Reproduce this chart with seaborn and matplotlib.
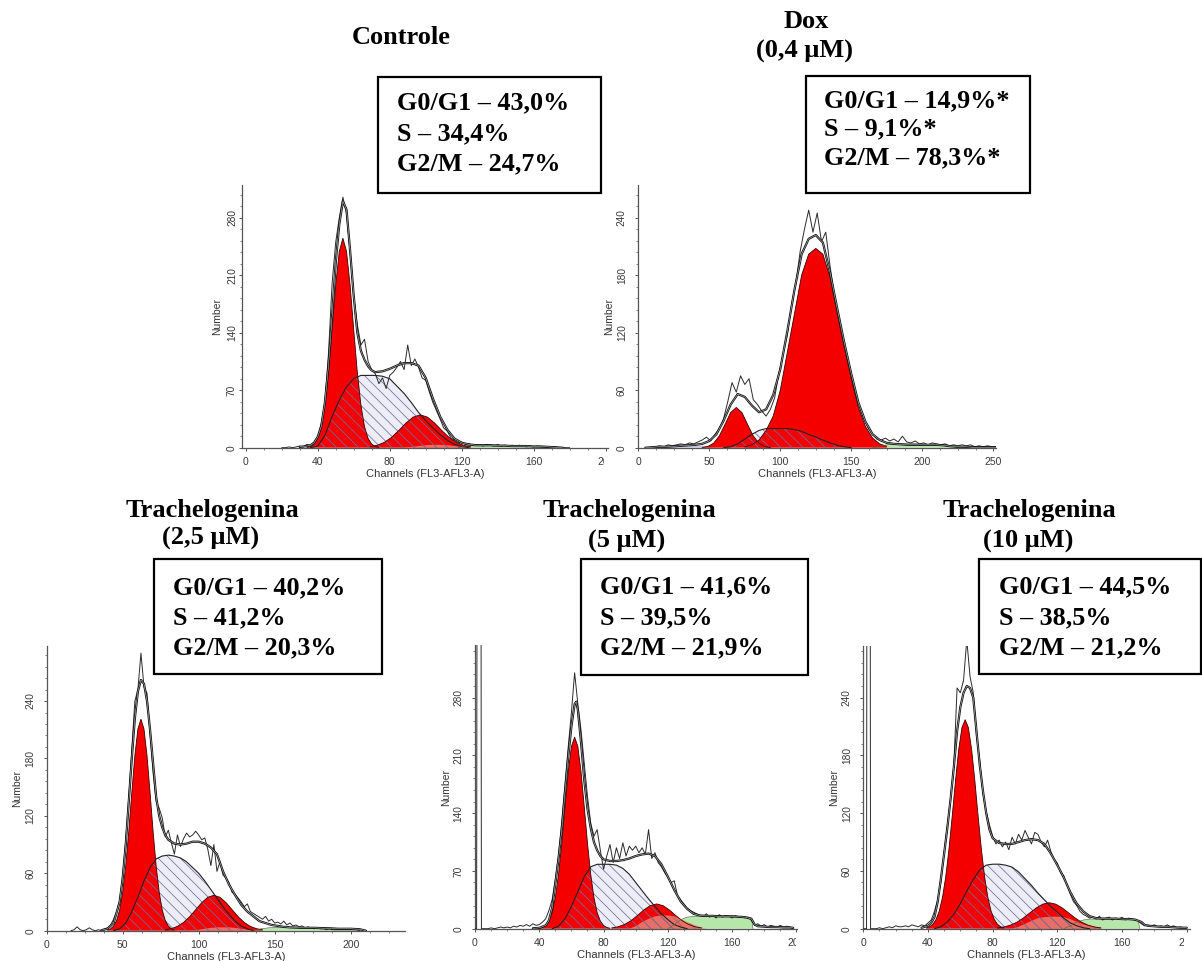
import matplotlib
matplotlib.use("Agg")
import matplotlib.pyplot as plt
import seaborn as sns
from matplotlib.patches import Rectangle
from matplotlib.ticker import AutoMinorLocator
from matplotlib.transforms import Bbox

# ----------------------------------------------------------------- DATA
# Controle
ctrl_raw_x = list(range(20, 182, 2))
ctrl_raw_y = [0, 0, 1, 0, 1, 2, 1, 4, 3, 7,
              14, 30, 55, 115, 200, 250, 280, 305, 285, 238,
              185, 150, 125, 132, 105, 95, 90, 78, 85, 72,
              88, 92, 98, 105, 95, 125, 100, 108, 98, 85,
              82, 68, 55, 45, 35, 24, 20, 12, 9, 6,
              7, 4, 5, 3, 4, 3, 2, 4, 3, 2,
              4, 2, 3, 2, 3, 2, 3, 2, 1, 2,
              1, 2, 1, 1, 1, 0, 1, 0, 0, 0, 0]
ctrl_fit_x = [30, 32, 34, 36, 38, 40, 42, 44, 46, 48, 50, 52, 54, 56, 58, 60, 62, 64, 66, 68, 70,
              72, 76, 80, 84, 88, 92, 96, 100, 104, 108, 112, 116, 120, 124, 128, 132, 136, 140,
              144, 148, 152, 156, 160, 164, 168, 172, 176]
ctrl_fit_y = [1, 1.5, 2, 3, 6, 13, 26, 55, 100, 160, 225, 272, 300, 290, 240, 185, 140, 118, 107, 99, 94,
              92, 93, 96, 100, 103, 103, 100, 85, 60, 38, 22, 11, 6, 4, 3, 3, 3, 2.5,
              2.5, 2, 2, 2, 1.5, 1.5, 1, 0.5, 0]
ctrl_g1_x = list(range(34, 76, 2))
ctrl_g1_y = [0.4, 1.4, 4.3, 11.2, 25.6, 52, 92, 144, 198, 239, 255, 239, 198, 144, 92, 52, 25.6, 11.2, 4.3, 1.4, 0.4]
ctrl_s_x = list(range(36, 128, 4))
ctrl_s_y = [0, 2, 15, 38, 58, 74, 84, 88, 88, 88, 87, 84, 75, 66, 55, 43, 33, 24, 16, 9, 4, 1.5, 0]
ctrl_g2_x = list(range(69, 129, 4))
ctrl_g2_y = [1.1, 2.9, 6.5, 12.5, 20.8, 29.9, 37.2, 40, 37.2, 29.9, 20.8, 12.5, 6.5, 2.9, 1.1]
ctrl_agg_x = list(range(88, 132, 4))
ctrl_agg_y = [0, 1, 2, 3, 3.5, 3.5, 3, 2, 1, 0.5, 0]
ctrl_green_x = list(range(118, 182, 4))
ctrl_green_y = [0, 2, 3, 3.5, 3.5, 3, 3, 2.5, 2, 2, 1.5, 1, 0.8, 0.5, 0.3, 0]

# Dox (0,4 uM)
dox_raw_x = list(range(9, 256, 3))
dox_raw_y = [0, 1, 2, 1, 3, 2, 3, 4, 3, 5,
             4, 6, 8, 11, 7, 14, 20, 30, 48, 68,
             58, 75, 66, 72, 50, 45, 38, 33, 40, 52,
             78, 98, 118, 150, 172, 205, 228, 248, 225, 245,
             215, 225, 190, 160, 138, 115, 95, 75, 55, 42,
             30, 20, 14, 9, 8, 10, 7, 9, 6, 12,
             6, 5, 7, 4, 5, 3, 5, 4, 3, 4,
             2, 3, 2, 3, 2, 3, 1, 2, 1, 2,
             1, 1, 0]
dox_fit_x = list(range(5, 256, 5))
dox_fit_y = [0, 0.5, 1, 1, 1.5, 2, 2.5, 3, 4, 7,
             14, 28, 45, 56, 53, 44, 37, 40, 55, 82,
             122, 165, 202, 218, 222, 214, 183, 146, 110, 77,
             47, 27, 14, 8, 5, 4, 3.5, 3, 3, 3,
             3, 3, 2.5, 1.5, 1, 1, 0.5, 0.5, 0.5, 0.5, 0]
dox_g1_x = list(range(45, 94, 4))
dox_g1_y = [0.3, 1.3, 4.6, 12.1, 24.1, 36.6, 42, 36.6, 24.1, 12.1, 4.6, 1.3, 0.3]
dox_s_x = list(range(60, 151, 5))
dox_s_y = [0, 1, 4, 9, 14, 18, 20, 20, 20, 20, 19, 17, 14, 11, 8, 5, 2.5, 1, 0]
dox_g2_x = list(range(75, 176, 5))
dox_g2_y = [1, 3, 8, 18, 33, 60, 100, 140, 180, 202, 208, 202, 178, 140, 105, 72, 42, 22, 10, 4, 1.5]
dox_green_x = list(range(165, 226, 5))
dox_green_y = [0, 1.5, 3, 3.5, 4, 4, 4, 3.5, 3.5, 3.5, 3, 2, 0]
dox_debris_x = list(range(20, 56, 5))
dox_debris_y = [0, 1, 1.5, 2, 2, 2, 1.5, 0]

# Trachelogenina 2,5 uM
t25_raw_x = list(range(16, 208, 2))
t25_raw_y = [0, 1, 4, 1, 0, 1, 3, 1, 0, 1,
             0, 2, 3, 6, 12, 20, 32, 58, 95, 140,
             190, 240, 252, 290, 255, 248, 205, 165, 135, 128,
             118, 98, 105, 92, 80, 100, 88, 96, 102, 98,
             100, 104, 100, 95, 97, 85, 68, 90, 62, 72,
             58, 55, 50, 40, 38, 34, 30, 25, 28, 20,
             18, 16, 14, 12, 15, 10, 12, 8, 9, 7,
             10, 6, 8, 5, 6, 4, 5, 3, 4, 3,
             2, 3, 2, 2, 1, 2, 1, 1, 1, 1,
             1, 1, 1, 1, 1, 0]
t25_fit_x = [36, 40, 44, 48, 50, 52, 54, 56, 58, 60, 62, 64, 66, 68, 70, 72, 74, 76, 78,
             80, 84, 88, 92, 96, 100, 104, 108, 112, 116, 120, 124, 128, 132, 136, 140, 144, 148,
             152, 156, 160, 168, 176, 184, 192, 200, 206, 210]
t25_fit_y = [0.5, 2, 8, 30, 55, 90, 135, 180, 222, 250, 262, 258, 240, 210, 175, 140, 120, 108, 100,
             95, 91, 90, 91, 93, 93, 91, 87, 80, 62, 48, 37, 27, 20, 15, 10, 8, 6,
             5, 4, 3.5, 3, 3, 2.5, 2, 2, 1.5, 0]
t25_g1_x = list(range(40, 86, 2))
t25_g1_y = [0.7, 1.9, 4.8, 10.7, 21.7, 40.2, 67.7, 103.7, 144.3, 182.8, 210.8, 221,
            210.8, 182.8, 144.3, 103.7, 67.7, 40.2, 21.7, 10.7, 4.8, 1.9, 0.7]
t25_s_x = list(range(44, 140, 4))
t25_s_y = [0, 2, 8, 20, 35, 52, 66, 75, 78, 79, 78, 76, 72, 66, 60, 52, 43, 34, 25, 17, 10, 5, 2, 0]
t25_g2_x = list(range(78, 146, 4))
t25_g2_y = [0.9, 2.1, 4.5, 8.6, 14.5, 21.9, 29.3, 34.9, 37, 34.9, 29.3, 21.9, 14.5, 8.6, 4.5, 2.1, 0.9]
t25_agg_x = list(range(96, 144, 4))
t25_agg_y = [0, 1, 2, 3, 3.5, 3.5, 3.5, 3, 2, 1, 0.5, 0]
t25_green_x = list(range(136, 210, 5))
t25_green_y = [0, 2, 3, 3.5, 3.5, 3.5, 3.5, 3, 3, 3, 3, 2.5, 2.5, 2, 0]

# Trachelogenina 5 uM
t5_raw_x = [0, 1, 1.3, 3.7, 4, 6] + list(range(8, 200, 2))
t5_raw_y = [0, 0, 500, 500, 0, 0,
            0, 1, 0, 1, 2, 1, 2, 1, 3, 2,
            4, 3, 5, 3, 6, 4, 5, 8, 12, 22,
            35, 60, 90, 130, 175, 220, 262, 310, 272, 240,
            200, 160, 128, 112, 120, 95, 72, 88, 102, 80,
            98, 85, 104, 88, 100, 95, 100, 92, 98, 90,
            120, 85, 92, 80, 75, 68, 62, 56, 58, 40,
            35, 30, 25, 22, 20, 18, 16, 15, 18, 14,
            16, 13, 17, 14, 16, 15, 13, 16, 14, 15,
            13, 14, 10, 4, 6, 3, 5, 2, 4, 3,
            2, 4, 2, 3, 2, 1]
t5_fit_x = [36, 40, 44, 46, 48, 50, 52, 54, 56, 58, 60, 62, 63, 64, 66, 68, 70, 72, 74, 76, 78, 80,
            84, 88, 92, 96, 100, 104, 108, 112, 116, 120, 124, 128, 132, 136, 140, 144, 148, 152,
            156, 160, 164, 168, 172, 174, 176, 180, 184, 188, 192, 196, 198]
t5_fit_y = [0.5, 1, 4, 10, 25, 55, 85, 120, 165, 208, 245, 272, 275, 265, 225, 180, 145, 122, 105, 95, 88, 84,
            82, 82, 83, 85, 88, 90, 91, 88, 78, 63, 47, 33, 24, 18, 16, 15.5, 15.5, 15,
            15, 15, 14.5, 14, 12, 5, 3, 2.5, 2, 2, 1.5, 1.5, 1]
t5_g1_x = list(range(40, 86, 2))
t5_g1_y = [0.5, 1.5, 3.9, 9.2, 19.6, 37.8, 65.9, 103.6, 147.5, 189.7, 220.6, 232,
           220.6, 189.7, 147.5, 103.6, 65.9, 37.8, 19.6, 9.2, 3.9, 1.5, 0.5]
t5_s_x = list(range(48, 136, 4))
t5_s_y = [0, 3, 12, 27, 45, 63, 75, 78, 78, 78, 77, 73, 66, 56, 46, 36, 27, 18, 11, 5, 2, 0]
t5_g2_x = list(range(85, 145, 4))
t5_g2_y = [0.9, 2.3, 5.1, 9.6, 15.8, 22.6, 27.9, 30, 27.9, 22.6, 15.8, 9.6, 5.1, 2.3, 0.9]
t5_agg_x = list(range(96, 148, 4))
t5_agg_y = [0, 3, 8, 12, 15, 16, 16, 15, 12, 8, 5, 2, 0]
t5_green_x = [120, 124, 128, 132, 136, 140, 144, 148, 152, 156, 160, 164, 168, 172, 173]
t5_green_y = [0, 5, 11, 14, 15, 15, 15, 15, 15, 15, 14.5, 14, 14, 13, 0]

# Trachelogenina 10 uM
t10_raw_x = [0, 2, 2.3, 4.2, 4.5, 6] + list(range(8, 202, 2))
t10_raw_y = [0, 0, 500, 500, 0, 0,
             0, 1, 0, 1, 2, 1, 3, 2, 2, 3,
             2, 4, 3, 2, 4, 3, 6, 9, 18, 30,
             48, 80, 108, 135, 170, 250, 245, 258, 300, 262,
             245, 200, 175, 140, 122, 108, 96, 88, 92, 85,
             90, 82, 95, 88, 98, 92, 102, 95, 88, 100,
             98, 90, 85, 92, 80, 72, 68, 58, 55, 45,
             36, 28, 24, 18, 15, 13, 11, 12, 10, 13,
             9, 11, 12, 9, 11, 10, 12, 9, 11, 10,
             9, 8, 5, 3, 4, 3, 4, 2, 3, 2,
             4, 2, 3, 1, 2, 1, 1]
t10_fit_x = [36, 40, 42, 44, 46, 48, 50, 52, 54, 56, 58, 60, 62, 64, 66, 68, 70, 72, 74, 76, 78, 80,
             84, 88, 92, 96, 100, 104, 108, 112, 116, 120, 124, 128, 132, 136, 140, 144, 148, 152,
             156, 160, 164, 168, 172, 174, 176, 180, 184, 188, 192, 196, 200]
t10_fit_y = [1, 3, 6, 12, 28, 52, 78, 105, 135, 168, 205, 230, 245, 252, 250, 240, 205, 170, 143, 120, 103, 94,
             89, 88, 88, 90, 92, 93, 92, 88, 78, 66, 53, 38, 26, 18, 13, 11, 10.5, 10.5,
             10.5, 10, 10, 9.5, 7, 4, 3, 2.5, 2, 2, 1.5, 1, 1]
t10_g1_x = list(range(39, 89, 2))
t10_g1_y = [0.8, 2.0, 4.6, 9.6, 18.4, 32.8, 54.1, 82.8, 117, 153.4, 186, 208.8, 217,
            208.8, 186, 153.4, 117, 82.8, 54.1, 32.8, 18.4, 9.6, 4.6, 2.0, 0.8]
t10_s_x = list(range(44, 144, 4))
t10_s_y = [0, 2, 7, 15, 26, 39, 51, 61, 66, 67, 67, 66, 64, 59, 52, 45, 37, 30, 23, 17, 11, 6, 3, 1, 0]
t10_g2_x = list(range(83, 151, 4))
t10_g2_y = [0.8, 1.8, 3.7, 6.7, 11.1, 16.4, 21.6, 25.5, 27, 25.5, 21.6, 16.4, 11.1, 6.7, 3.7, 1.8, 0.8]
t10_agg_x = list(range(92, 152, 4))
t10_agg_y = [0, 2, 5, 8, 11, 12, 12.5, 12.5, 12, 10, 7, 4.5, 2.5, 1, 0]
t10_green_x = [124, 128, 132, 136, 140, 144, 148, 152, 156, 160, 164, 168, 170, 171]
t10_green_y = [0, 3, 7, 9, 10, 10, 10, 10, 10, 9.5, 9.5, 9, 8.5, 0]

# Tick labels
ctrl_xticks = [0, 40, 80, 120, 160, 200]
ctrl_yticks = [0, 70, 140, 210, 280]
dox_xticks = [0, 50, 100, 150, 200, 250]
dox_yticks = [0, 60, 120, 180, 240]
t25_xticks = [0, 50, 100, 150, 200]
t25_yticks = [0, 60, 120, 180, 240]
t5_xticks = [0, 40, 80, 120, 160, 200]
t5_yticks = [0, 70, 140, 210, 280]
t10_xticks = [0, 40, 80, 120, 160, 200]
t10_yticks = [0, 60, 120, 180, 240]

# Texts
titles = ["Controle", "Dox", "(0,4 \u03bcM)", "Trachelogenina", "(2,5 \u03bcM)",
          "Trachelogenina", "(5 \u03bcM)", "Trachelogenina", "(10 \u03bcM)"]
ctrl_lines = ["G0/G1 \u2013 43,0%", "S \u2013 34,4%", "G2/M \u2013 24,7%"]
dox_lines = ["G0/G1 \u2013 14,9%*", "S \u2013 9,1%*", "G2/M \u2013 78,3%*"]
t25_lines = ["G0/G1 \u2013 40,2%", "S \u2013 41,2%", "G2/M \u2013 20,3%"]
t5_lines = ["G0/G1 \u2013 41,6%", "S \u2013 39,5%", "G2/M \u2013 21,9%"]
t10_lines = ["G0/G1 \u2013 44,5%", "S \u2013 38,5%", "G2/M \u2013 21,2%"]

# ----------------------------------------------------------------- STYLE
sns.set_theme(style="white")
plt.rcParams["font.family"] = ["Liberation Sans", "DejaVu Sans"]
plt.rcParams["hatch.linewidth"] = 0.55
SERIF = ["Liberation Serif", "DejaVu Serif"]

W, H = 1202, 961
fig = plt.figure(figsize=(W / 100, H / 100), dpi=100)

RED = "#f50000"
S_FILL = "#ededf7"
S_HATCH = "#70709a"
GREEN = "#b6e6aa"
AGG = "#e6847a"


def make_axes(x0, y0, ppx, ppy, xlim, ylim):
    left = x0 + xlim[0] * ppx
    right = x0 + xlim[1] * ppx
    bottom = y0 - ylim[0] * ppy
    top = y0 - ylim[1] * ppy
    return fig.add_axes([left / W, 1 - bottom / H, (right - left) / W, (bottom - top) / H])


def line(ax, x, y, color, lw, z):
    sns.lineplot(x=x, y=y, ax=ax, color=color, linewidth=lw, estimator=None,
                 sort=False, legend=False, zorder=z)


def draw_panel(ax, d, xlim, ylim, xticks, yticks, ypad, nlabelpad, clip_x=None):
    # S phase background
    ax.fill_between(d["s"][0], d["s"][1], 0, facecolor=S_FILL, edgecolor="none", zorder=1)
    if "debris" in d:
        ax.fill_between(d["debris"][0], d["debris"][1], 0, facecolor="#c9c9e6",
                        edgecolor="none", zorder=1)
    ax.fill_between(d["green"][0], d["green"][1], 0, facecolor=GREEN, edgecolor="none", zorder=1.5)
    # G0/G1 and G2/M
    ax.fill_between(d["g1"][0], d["g1"][1], 0, facecolor=RED, edgecolor="none", zorder=2)
    ax.fill_between(d["g2"][0], d["g2"][1], 0, facecolor=RED, edgecolor="none", zorder=2)
    # aggregates
    ax.fill_between(d["agg"][0], d["agg"][1], 0, facecolor=AGG, alpha=0.85,
                    edgecolor="none", zorder=2.4)
    ax.fill_between(d["agg"][0], d["agg"][1], 0, facecolor="none", hatch="\\\\\\",
                    edgecolor="#b85a55", linewidth=0, zorder=2.45)
    # S hatch overlay
    ax.fill_between(d["s"][0], d["s"][1], 0, facecolor="none", hatch="\\\\\\",
                    edgecolor=S_HATCH, linewidth=0, zorder=2.5)
    # outlines
    line(ax, d["g1"][0], d["g1"][1], "#3a0000", 0.6, 3)
    line(ax, d["g2"][0], d["g2"][1], "#3a0000", 0.6, 3)
    line(ax, d["s"][0], d["s"][1], "#222222", 0.8, 3)
    line(ax, d["green"][0], d["green"][1], "#3d6b3d", 0.4, 3)
    # raw histogram
    line(ax, d["raw"][0], d["raw"][1], "#2a2a2a", 0.7, 4)
    # model fit (dark with a fine light core)
    line(ax, d["fit"][0], d["fit"][1], "#151515", 1.6, 5)
    line(ax, d["fit"][0], d["fit"][1], "#f4f4f4", 0.3, 5.1)

    ax.set_xlim(*xlim)
    ax.set_ylim(*ylim)
    ax.set_xticks(xticks)
    ax.set_yticks(yticks)
    ax.set_xticklabels([str(v) for v in xticks])
    ax.set_yticklabels([str(v) for v in yticks])
    ax.xaxis.set_minor_locator(AutoMinorLocator(4))
    ax.yaxis.set_minor_locator(AutoMinorLocator(5))
    for side in ["top", "right"]:
        ax.spines[side].set_visible(False)
    for side in ["left", "bottom"]:
        ax.spines[side].set_color("#555555")
        ax.spines[side].set_linewidth(0.9)
    ax.tick_params(which="both", direction="out", color="#555555", bottom=True, left=True)
    ax.tick_params(which="major", length=2.2, width=0.7)
    ax.tick_params(which="minor", length=1.4, width=0.5)
    ax.tick_params(axis="x", which="major", labelsize=7.5, labelcolor="#3a3a3a", pad=4.5)
    ax.tick_params(axis="y", which="major", labelsize=7.3, labelcolor="#3a3a3a", pad=ypad)
    plt.setp(ax.get_yticklabels(), rotation=90, va="center")
    ax.set_xlabel("Channels (FL3-AFL3-A)", fontsize=8, color="#333333", labelpad=1.5)
    ax.set_ylabel("Number", fontsize=7.5, color="#333333", labelpad=nlabelpad)
    ax.patch.set_alpha(0)
    if clip_x is not None:
        lab = ax.xaxis.get_major_ticks()[-1].label1
        lab.set_clip_on(True)
        lab.set_clip_box(Bbox.from_extents(0, 0, clip_x, H))


panels = [
    dict(pos=(245.7, 447.7, 1.8, 0.8214), xlim=(-2, 201), ylim=(0, 320),
         xt=ctrl_xticks, yt=ctrl_yticks, ypad=1.5, nlp=3.5, clip=604,
         d=dict(raw=(ctrl_raw_x, ctrl_raw_y), fit=(ctrl_fit_x, ctrl_fit_y), g1=(ctrl_g1_x, ctrl_g1_y),
                s=(ctrl_s_x, ctrl_s_y), g2=(ctrl_g2_x, ctrl_g2_y), agg=(ctrl_agg_x, ctrl_agg_y),
                green=(ctrl_green_x, ctrl_green_y))),
    dict(pos=(638.3, 447.7, 1.42, 0.958), xlim=(0, 252), ylim=(0, 274),
         xt=dox_xticks, yt=dox_yticks, ypad=6, nlp=2, clip=None,
         d=dict(raw=(dox_raw_x, dox_raw_y), fit=(dox_fit_x, dox_fit_y), g1=(dox_g1_x, dox_g1_y),
                s=(dox_s_x, dox_s_y), g2=(dox_g2_x, dox_g2_y), agg=([0, 1], [0, 0]),
                green=(dox_green_x, dox_green_y), debris=(dox_debris_x, dox_debris_y))),
    dict(pos=(46.7, 930.7, 1.52, 0.957), xlim=(0, 236), ylim=(0, 298),
         xt=t25_xticks, yt=t25_yticks, ypad=6, nlp=2, clip=None,
         d=dict(raw=(t25_raw_x, t25_raw_y), fit=(t25_fit_x, t25_fit_y), g1=(t25_g1_x, t25_g1_y),
                s=(t25_s_x, t25_s_y), g2=(t25_g2_x, t25_g2_y), agg=(t25_agg_x, t25_agg_y),
                green=(t25_green_x, t25_green_y))),
    dict(pos=(475.0, 928.7, 1.607, 0.8257), xlim=(0, 200.5), ylim=(0, 343),
         xt=t5_xticks, yt=t5_yticks, ypad=6, nlp=2, clip=796,
         d=dict(raw=(t5_raw_x, t5_raw_y), fit=(t5_fit_x, t5_fit_y), g1=(t5_g1_x, t5_g1_y),
                s=(t5_s_x, t5_s_y), g2=(t5_g2_x, t5_g2_y), agg=(t5_agg_x, t5_agg_y),
                green=(t5_green_x, t5_green_y))),
    dict(pos=(863.3, 928.7, 1.617, 0.963), xlim=(0, 202), ylim=(0, 294),
         xt=t10_xticks, yt=t10_yticks, ypad=6, nlp=2, clip=1184,
         d=dict(raw=(t10_raw_x, t10_raw_y), fit=(t10_fit_x, t10_fit_y), g1=(t10_g1_x, t10_g1_y),
                s=(t10_s_x, t10_s_y), g2=(t10_g2_x, t10_g2_y), agg=(t10_agg_x, t10_agg_y),
                green=(t10_green_x, t10_green_y))),
]

for p in panels:
    ax = make_axes(*p["pos"], p["xlim"], p["ylim"])
    draw_panel(ax, p["d"], p["xlim"], p["ylim"], p["xt"], p["yt"], p["ypad"], p["nlp"], p["clip"])


# ----------------------------------------------------------------- TEXT
def ftext(x, y, s, size, ha="center"):
    fig.text(x / W, 1 - y / H, s, ha=ha, va="center", fontsize=size, fontweight="bold",
             family=SERIF, color="black")


title_pos = [(401, 38), (806.7, 21), (805, 51), (212, 511), (210.8, 538),
             (629, 511), (627, 541), (1029, 511), (1028, 541)]
for (x, y), s in zip(title_pos, titles):
    ftext(x, y, s, 19)

boxes = [
    ((377.7, 76.7, 601, 192.7), 396.7, (102.5, 133.8, 164), ctrl_lines),
    ((806, 76, 1030, 192.7), 824, (101, 129, 157.5), dox_lines),
    ((154, 559, 381.7, 674), 172.7, (587.5, 617.5, 647.5), t25_lines),
    ((580.7, 559, 808, 675), 600, (587, 617.5, 647.5), t5_lines),
    ((979.3, 559, 1200.5, 674), 999, (587, 617.5, 647.5), t10_lines),
]
for (x0, y0, x1, y1), tx, tys, lines in boxes:
    fig.add_artist(Rectangle((x0 / W, 1 - y1 / H), (x1 - x0) / W, (y1 - y0) / H,
                             transform=fig.transFigure, fill=False, lw=1.6,
                             edgecolor="black", zorder=10))
    for ty, s in zip(tys, lines):
        ftext(tx, ty, s, 18.8, ha="left")

fig.savefig("out.png", dpi=100, facecolor="white")
